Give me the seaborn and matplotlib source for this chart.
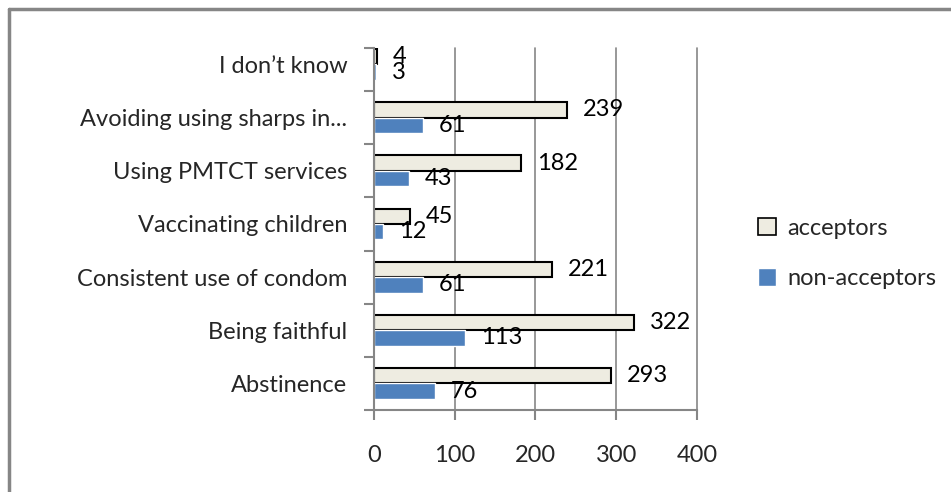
import matplotlib
matplotlib.use("Agg")
import matplotlib.pyplot as plt
import seaborn as sns
import pandas as pd
from matplotlib.lines import Line2D
from matplotlib.ticker import FixedLocator

categories = ["I don\u2019t know", "Avoiding using sharps in...", "Using PMTCT services",
              "Vaccinating children", "Consistent use of condom", "Being faithful", "Abstinence"]
acceptors = [4, 239, 182, 45, 221, 322, 293]
non_acceptors = [3, 61, 43, 12, 61, 113, 76]
series = ["acceptors", "non-acceptors"]
x_ticks = [0, 100, 200, 300, 400]

df = pd.DataFrame({
    "category": categories * 2,
    "value": acceptors + non_acceptors,
    "group": [series[0]] * len(categories) + [series[1]] * len(categories),
})

sns.set_theme(style="white")
plt.rcParams["font.family"] = ["Lato", "DejaVu Sans"]
FS = 17

fig = plt.figure(figsize=(9.51, 4.92), dpi=100)
ax = fig.add_axes([0.393, 0.1667, 0.340, 0.7358])

sns.barplot(data=df, y="category", x="value", hue="group", hue_order=series,
            order=categories, orient="h", width=0.58,
            palette={"acceptors": "#EEECE1", "non-acceptors": "#4F81BD"},
            ax=ax, saturation=1, legend=True)

for p in ax.containers[0]:
    p.set_edgecolor("black")
    p.set_linewidth(1.5)

for cont in ax.containers:
    ax.bar_label(cont, padding=11.5, fontsize=FS, color="black")

top_lim = -0.31
ax.set_xlim(0, 400)
ax.set_ylim(len(categories) - 0.5, top_lim)
ax.xaxis.set_major_locator(FixedLocator(x_ticks))
ax.set_xticklabels([str(t) for t in x_ticks], fontsize=FS)
ax.grid(axis="x", color="#868686", linewidth=1.2)
for gl in ax.get_xgridlines():
    gl.set_clip_on(False)
ax.set_axisbelow(True)
ax.set_xlabel("")
ax.set_ylabel("")

for s in ["top", "right"]:
    ax.spines[s].set_visible(False)
for s in ["left", "bottom"]:
    ax.spines[s].set_color("#868686")
    ax.spines[s].set_linewidth(1.5)

ax.tick_params(axis="x", length=7, width=1.5, color="#868686", pad=18, labelsize=FS,
               bottom=True, direction="out")
ax.tick_params(axis="y", which="major", length=0, pad=19, labelsize=FS)
ax.yaxis.set_minor_locator(FixedLocator([top_lim] + [i + 0.5 for i in range(len(categories))]))
ax.tick_params(axis="y", which="minor", length=7, width=1.5, color="#868686", left=True,
               direction="out")

handles, labels = ax.get_legend_handles_labels()
leg = ax.legend(handles, labels, loc="center left", bbox_to_anchor=(0.797, 0.485),
                bbox_transform=fig.transFigure, frameon=False, fontsize=FS, borderpad=0,
                borderaxespad=0,
                handlelength=0.75, handleheight=0.75, labelspacing=1.25, handletextpad=0.5)
leg.legend_handles[0].set_edgecolor("black")
leg.legend_handles[0].set_linewidth(1.2)

# frame lines (top and left) of the original image
fig.add_artist(Line2D([0.009, 1.0], [0.9825, 0.9825], transform=fig.transFigure,
                      color="#868686", linewidth=2.5))
fig.add_artist(Line2D([0.009, 0.009], [0.0, 0.9825], transform=fig.transFigure,
                      color="#868686", linewidth=2.5))

fig.savefig("out.png", dpi=100, facecolor="white")
